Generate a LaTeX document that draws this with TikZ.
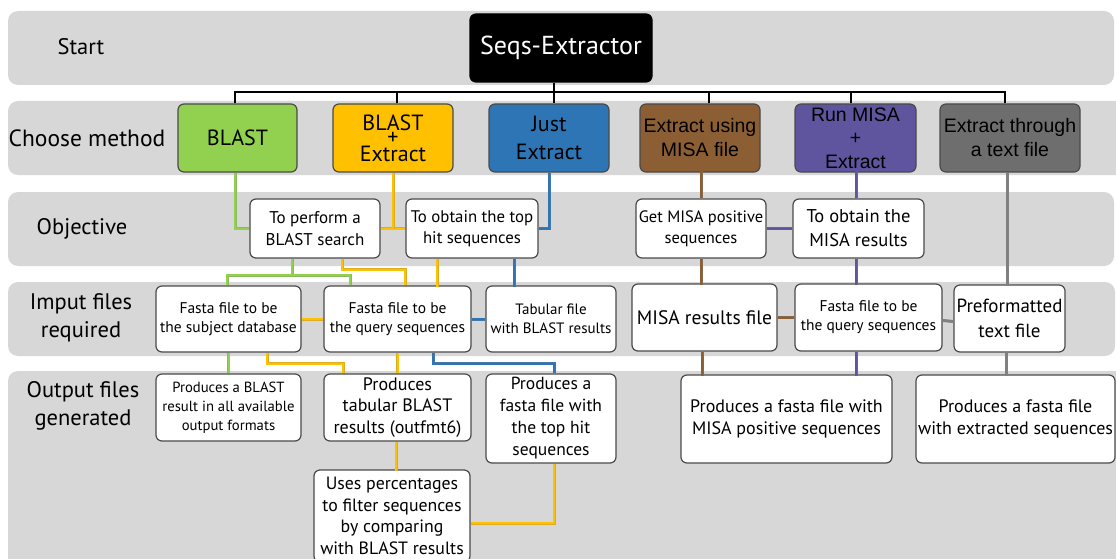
\documentclass[tikz,border=0pt]{standalone}
\usepackage{fontspec}
\setmainfont{PT Sans}
\newfontfamily\arialf{Liberation Sans}
\newcommand{\myfs}[2]{\fontsize{#1}{#2}\selectfont}
\definecolor{bandgray}{HTML}{D7D7D7}
\definecolor{boxline}{HTML}{4A4A4A}
\definecolor{cgreen}{HTML}{92D050}
\definecolor{cyellow}{HTML}{FFC000}
\definecolor{cblue}{HTML}{2E75B6}
\definecolor{cbrown}{HTML}{8C5E34}
\definecolor{cpurple}{HTML}{5E559E}
\definecolor{cgray}{HTML}{6E6E6E}
\definecolor{lgray}{HTML}{808080}
\begin{document}
\begin{tikzpicture}[x=1pt,y=-1pt,
  band/.style={fill=bandgray,rounded corners=10pt},
  box/.style={draw=boxline,line width=1.2pt,rounded corners=6pt,fill=white,inner sep=0pt,align=center,text=black},
  rowlab/.style={align=center,font=\myfs{22.5}{28}},
  conn/.style={draw=#1!70!gray,double=#1,double distance=2pt,line width=0.5pt},
  bus/.style={draw=black,line width=2pt}]
\useasboundingbox (0,0) rectangle (1116,559);
\clip (0,0) rectangle (1116,559);
\fill[white] (0,0) rectangle (1116,559);
% bands
\fill[band] (8,11) rectangle (1114,85);
\fill[band] (8,101) rectangle (1125,175);
\fill[band] (8,192) rectangle (1114,266);
\fill[band] (8,282) rectangle (1115,356);
\fill[band] (8,371) rectangle (1125,590);
% row labels
\node[rowlab] (lstart) at (81,47) {Start};
\node[rowlab,font=\myfs{23.5}{28}] (lchoose) at (87,138) {Choose method};
\node[rowlab] (lobj) at (82,229) {Objective};
\node[rowlab] (linput) at (81,318) {Imput files\\required};
\node[rowlab] (loutput) at (83,406) {Output files\\generated};
% start
\node[box,fill=black,draw=black,text=white,font=\myfs{26}{30},minimum width=182pt,minimum height=68pt] (seqs) at (561,48) {Seqs-Extractor};
% methods
\node[box,fill=cgreen,font=\myfs{22}{26},minimum width=119pt,minimum height=68pt] (blast) at (237.5,138) {BLAST};
\node[box,fill=cyellow,font=\myfs{22}{14.5},minimum width=120pt,minimum height=68pt] (blastx) at (393,138) {BLAST\\+\\Extract};
\node[box,fill=cblue,font=\myfs{22}{28},minimum width=120pt,minimum height=68pt] (just) at (549,138) {Just\\Extract};
\node[box,fill=cbrown,font=\arialf\myfs{19.5}{24},minimum width=120pt,minimum height=68pt] (misaext) at (700,138) {Extract using\\MISA file};
\node[box,fill=cpurple,font=\arialf\myfs{19.5}{23.5},minimum width=121pt,minimum height=68pt] (runmisa) at (855.5,138) {Run MISA\\+\\Extract};
\node[box,fill=cgray,font=\arialf\myfs{19.5}{24},minimum width=140pt,minimum height=68pt] (textext) at (1010,138) {Extract through\\a text file};
% objectives
\node[box,font=\myfs{17}{22},minimum width=130pt,minimum height=59pt] (perform) at (315,228.5) {To perform a\\BLAST search};
\node[box,font=\myfs{16.8}{21},minimum width=132pt,minimum height=59pt] (tophit) at (472,228.5) {To obtain the top\\hit sequences};
\node[box,font=\myfs{16.5}{21},minimum width=130pt,minimum height=59pt] (getmisa) at (701,228.5) {Get MISA positive\\sequences};
\node[box,font=\myfs{18.5}{24},minimum width=131pt,minimum height=59pt] (misares) at (858.5,228.5) {To obtain the\\MISA results};
% inputs
\node[box,font=\myfs{15.5}{19},minimum width=145pt,minimum height=66pt] (subj) at (228.5,319) {Fasta file to be\\the subject database};
\node[box,font=\myfs{15.5}{19},minimum width=147pt,minimum height=66pt] (query) at (397.5,319) {Fasta file to be\\the query sequences};
\node[box,font=\myfs{15}{19},minimum width=130pt,minimum height=66pt] (tab) at (551,319) {Tabular file\\with BLAST results};
\node[box,font=\myfs{19.5}{24},minimum width=145pt,minimum height=67pt] (misafile) at (704.5,317.5) {MISA results file};
\node[box,font=\myfs{15.5}{19},minimum width=147pt,minimum height=67pt] (query2) at (868.5,317.5) {Fasta file to be\\the query sequences};
\node[box,font=\myfs{19}{25},minimum width=111pt,minimum height=67pt] (preform) at (1009.5,318.5) {Preformatted\\text file};
% outputs
\node[box,font=\myfs{14.7}{19},minimum width=145pt,minimum height=67pt] (allfmt) at (228.5,407.5) {Produces a BLAST\\result in all available\\output formats};
\node[box,font=\myfs{18}{21.5},minimum width=147pt,minimum height=67pt] (tabres) at (397.5,407.5) {Produces\\tabular BLAST\\results (outfmt6)};
\node[box,font=\myfs{17.5}{22},minimum width=130pt,minimum height=89pt] (fastatop) at (551,418.5) {Produces a\\fasta file with\\the top hit\\sequences};
\node[box,font=\myfs{17.8}{21.7},minimum width=156pt,minimum height=92pt] (uses) at (392,516) {Uses percentages\\to filter sequences\\by comparing\\with BLAST results};
\node[box,font=\myfs{18}{22},minimum width=211pt,minimum height=88pt] (misapos) at (786.5,419) {Produces a fasta file with\\MISA positive sequences};
\node[box,font=\myfs{18}{22},minimum width=199pt,minimum height=88pt] (extracted) at (1015.5,419) {Produces a fasta file\\with extracted sequences};
% bus
\coordinate (busL) at (235,92);
\coordinate (busR) at (1005,92);
\draw[bus] (busL) -- (busR);
\draw[bus] ([xshift=-2.5pt]blast.north) -- ++(0,-12);
\draw[bus] ([xshift=4pt]blastx.north) -- ++(0,-12);
\draw[bus] ([xshift=-7pt]seqs.south) -- ([xshift=5pt]just.north);
\draw[bus] ([xshift=9pt]misaext.north) -- ++(0,-12);
\draw[bus] ([xshift=-4.5pt]runmisa.north) -- ++(0,-12);
\draw[bus] ([xshift=-5pt]textext.north) -- ++(0,-12);
% green
\coordinate (gj) at (292,275);
\draw[conn=cgreen] ([xshift=-2.5pt]blast.south) |- (perform.west);
\draw[conn=cgreen] ([xshift=-23pt]perform.south) -- (gj);
\draw[conn=cgreen] ([xshift=-1.5pt]subj.north) |- (gj) -| ([xshift=-47.5pt]query.north);
\draw[conn=cgreen] (subj.south) -- (allfmt.north);
% yellow
\draw[conn=cyellow] (perform.east) -- (tophit.west);
\draw[conn=cyellow] (blastx.south) -- (blastx.south |- perform.east);
\draw[conn=cyellow] ([xshift=27pt]perform.south) -- ++(0,11) -| ([xshift=7.5pt]query.north);
\draw[conn=cyellow] ([xshift=-35pt]tophit.south) -- ++(0,28);
\draw[conn=cyellow] (subj.east) -- (query.west);
\draw[conn=cyellow] ([xshift=38.5pt]subj.south) -- ++(0,11) -| ([xshift=-54.5pt]tabres.north);
\draw[conn=cyellow] (query.south) -- (tabres.north);
\draw[conn=cyellow] ([xshift=-1.5pt]tabres.south) -- ++(0,29);
\draw[conn=cyellow] ([xshift=3pt]fastatop.south) |- ([yshift=-7pt]uses.east);
% blue
\draw[conn=cblue] (just.south) |- (tophit.east);
\draw[conn=cblue] ([xshift=42pt]tophit.south) -- ++(0,28);
\draw[conn=cblue] (query.east) -- (tab.west);
\draw[conn=cblue] ([xshift=35.5pt]query.south) -- ++(0,11) -| ([xshift=3pt]fastatop.north);
% brown
\draw[conn=cbrown] (getmisa.north) -- ++(0,-27);
\draw[conn=cbrown] (getmisa.south) -- ++(0,26);
\draw[conn=cbrown] (misafile.east) -- (query2.west);
\draw[conn=cbrown] ([xshift=-2.5pt]misafile.south) -- ++(0,24);
% purple
\draw[conn=cpurple] ([xshift=-2.5pt]misares.north) -- ++(0,-27);
\draw[conn=cpurple] (getmisa.east) -- (misares.west);
\draw[conn=cpurple] ([xshift=-2.5pt]misares.south) -- ++(0,26);
\draw[conn=cpurple] ([xshift=-12.5pt]query2.south) -- ++(0,24);
% gray
\draw[conn=lgray] ([xshift=-3pt]textext.south) -- ++(0,113);
\draw[conn=lgray] ([yshift=-3pt]query2.east) -- ([yshift=-3pt]preform.west);
\draw[conn=lgray] ([xshift=-3.5pt]preform.south) -- ++(0,23);
\end{tikzpicture}
\end{document}
